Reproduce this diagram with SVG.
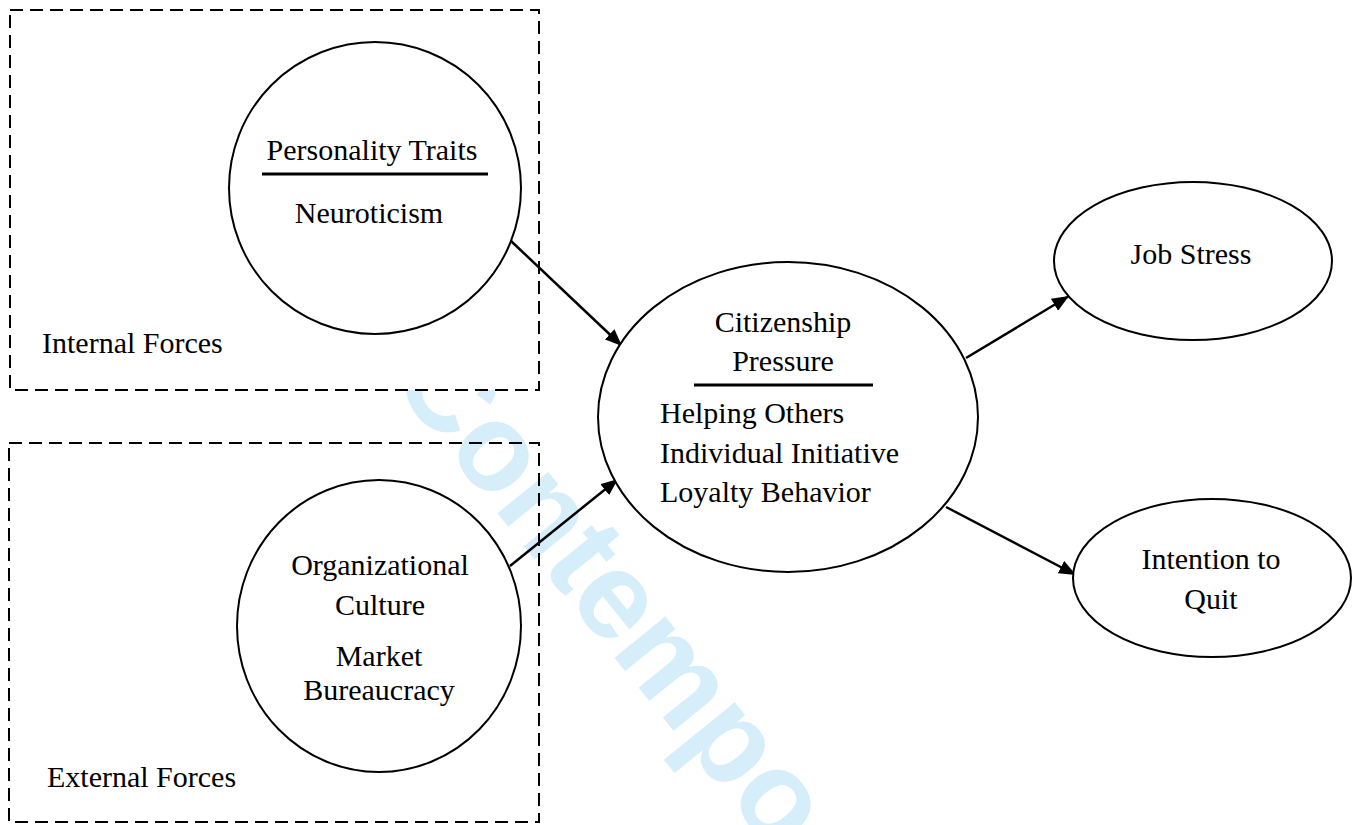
<svg xmlns="http://www.w3.org/2000/svg" width="1353" height="825" viewBox="0 0 1353 825">
<defs>
<style>
.t{font-family:"Liberation Serif","Times New Roman",serif;font-size:30px;fill:#000}
.c{text-anchor:middle}
.box{stroke:#000;stroke-width:2;stroke-dasharray:13 7}
.node{fill:#fff;stroke:#000;stroke-width:2}
.rule{stroke:#000;stroke-width:3}
.conn{stroke:#000;stroke-width:2.5;fill:none;marker-end:url(#ah)}
.wm{font-family:"Liberation Sans",Arial,sans-serif;font-weight:bold;font-size:124px;fill:#d5eefa}
</style>
<marker id="ah" markerUnits="userSpaceOnUse" markerWidth="18" markerHeight="14" refX="17" refY="7" orient="auto">
<path d="M0,0 L17,7 L0,14 z" fill="#000"/>
</marker>
</defs>
<rect width="1353" height="825" fill="#fff"/>
<text class="wm" transform="translate(388,378) rotate(51)">Contempo</text>

<g id="internal-forces">
<rect class="box" x="10" y="10" width="529" height="380" fill="#fff"/>
<text class="t" x="42" y="353">Internal Forces</text>
</g>
<g id="external-forces">
<rect class="box" x="9" y="443" width="530" height="379" fill="none"/>
<text class="t" x="47" y="787">External Forces</text>
</g>

<g id="connectors">
<line class="conn" x1="511" y1="241" x2="622" y2="346"/>
<line class="conn" x1="510" y1="566" x2="618" y2="479"/>
<line class="conn" x1="966" y1="358" x2="1069" y2="296"/>
<line class="conn" x1="946" y1="507" x2="1076" y2="575"/>
</g>

<g id="personality-traits">
<ellipse class="node" cx="375" cy="188" rx="146" ry="146"/>
<text class="t c" x="372" y="160">Personality Traits</text>
<line class="rule" x1="262" y1="174" x2="488" y2="174"/>
<text class="t c" x="369" y="223">Neuroticism</text>
</g>

<g id="organizational-culture">
<ellipse class="node" cx="379" cy="626" rx="142" ry="146"/>
<text class="t c" x="380" y="575">Organizational</text>
<text class="t c" x="380" y="615">Culture</text>
<text class="t c" x="379" y="666">Market</text>
<text class="t c" x="379" y="700">Bureaucracy</text>
</g>

<g id="citizenship-pressure">
<ellipse class="node" cx="788" cy="417" rx="190" ry="155"/>
<text class="t c" x="783" y="332">Citizenship</text>
<text class="t c" x="783" y="371">Pressure</text>
<line class="rule" x1="694" y1="385" x2="873" y2="385"/>
<text class="t" x="660" y="423">Helping Others</text>
<text class="t" x="660" y="463">Individual Initiative</text>
<text class="t" x="660" y="502">Loyalty Behavior</text>
</g>

<g id="job-stress">
<ellipse class="node" cx="1193" cy="261" rx="139" ry="79"/>
<text class="t c" x="1191" y="264">Job Stress</text>
</g>

<g id="intention-to-quit">
<ellipse class="node" cx="1212" cy="578" rx="139" ry="79"/>
<text class="t c" x="1211" y="569">Intention to</text>
<text class="t c" x="1211" y="609">Quit</text>
</g>
</svg>
